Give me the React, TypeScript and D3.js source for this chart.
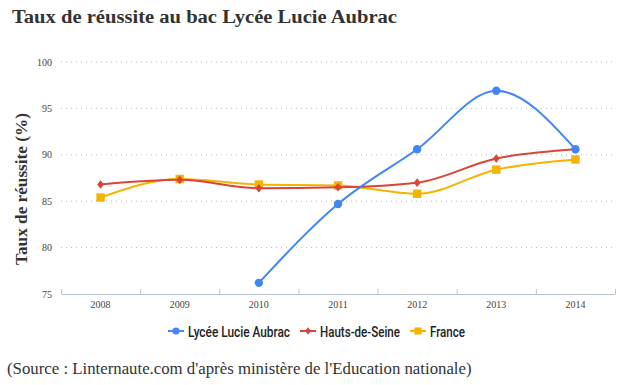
import * as d3 from "d3";
import { useEffect, useRef } from "react";

const years = ["2008", "2009", "2010", "2011", "2012", "2013", "2014"];
const lycee = [null, null, 76.2, 84.7, 90.6, 96.9, 90.6];
const hautsDeSeine = [86.8, 87.3, 86.4, 86.5, 87.0, 89.6, 90.6];
const france = [85.4, 87.4, 86.8, 86.7, 85.8, 88.4, 89.5];
const yTicks = [75, 80, 85, 90, 95, 100];

const seriesNames = ["Lycée Lucie Aubrac", "Hauts-de-Seine", "France"];
const seriesColors = ["#4285f4", "#db4437", "#f4b400"];
const seriesShapes = ["circle", "diamond", "square"];
// legend label widths (condensed font)
const legendWidths = [102, 80, 35];

export default function App() {
  const svgRef = useRef(null);
  const width = 629;
  const height = 385;
  const marginLeft = 61;
  const marginRight = 14;
  const marginTop = 62;
  const axisY = 294;

  useEffect(() => {
    const svg = d3.select(svgRef.current);
    svg.selectAll("*").remove();

    const serif = "'Liberation Serif', 'DejaVu Serif', serif";
    const legendFont = "'Roboto', 'Liberation Sans', sans-serif";

    // scale font-size so a text takes the wanted width
    const fit = (sel, target) => {
      const size = parseFloat(sel.attr("font-size"));
      const w = sel.node().getComputedTextLength();
      if (w > 0) sel.attr("font-size", `${(size * target / w).toFixed(2)}px`);
      return sel;
    };

    const x = d3.scaleBand().domain(years).range([marginLeft, width - marginRight]);
    const y = d3.scaleLinear().domain([75, 100]).range([axisY, marginTop]);

    // title
    const title = svg.append("text")
      .attr("x", 12)
      .attr("y", 23)
      .attr("font-family", serif)
      .attr("font-weight", "bold")
      .attr("font-size", "18.5px")
      .attr("fill", "#333")
      .attr("textLength", 385)
      .attr("lengthAdjust", "spacingAndGlyphs")
      .text("Taux de réussite au bac Lycée Lucie Aubrac");

    // gridlines (dotted)
    svg.append("g")
      .selectAll("line")
      .data(yTicks.filter(d => d > 75))
      .enter()
      .append("line")
      .attr("x1", marginLeft)
      .attr("x2", width - marginRight)
      .attr("y1", d => y(d))
      .attr("y2", d => y(d))
      .attr("stroke", "#bbb")
      .attr("stroke-width", 1)
      .attr("stroke-dasharray", "1,4");

    // y tick labels
    svg.append("g")
      .selectAll("text")
      .data(yTicks)
      .enter()
      .append("text")
      .attr("x", 52)
      .attr("y", d => y(d) + 3.5)
      .attr("text-anchor", "end")
      .attr("font-family", serif)
      .attr("font-size", "10px")
      .attr("fill", "#444")
      .text(d => d);

    // x axis
    const xAxis = d3.axisBottom(x).tickSize(0).tickSizeOuter(0);
    const gx = svg.append("g")
      .attr("transform", `translate(0, ${axisY})`)
      .call(xAxis)
      .call(g => g.select(".domain").attr("stroke", "#b8c4d0"));
    gx.selectAll(".tick text")
      .attr("dy", "1.05em")
      .attr("font-family", serif)
      .attr("font-size", "10px")
      .attr("fill", "#444");

    // band separators
    const bounds = years.map(d => x(d)).concat([width - marginRight]);
    svg.append("g")
      .selectAll("line")
      .data(bounds)
      .enter()
      .append("line")
      .attr("x1", d => d + 0.5)
      .attr("x2", d => d + 0.5)
      .attr("y1", axisY - 5)
      .attr("y2", axisY)
      .attr("stroke", "#b8c4d0");

    // y axis title
    const yTitle = svg.append("text")
      .attr("transform", `translate(27, ${189}) rotate(-90)`)
      .attr("text-anchor", "middle")
      .attr("font-family", serif)
      .attr("font-weight", "bold")
      .attr("font-size", "15.5px")
      .attr("fill", "#333")
      .text("Taux de réussite (%)");
    fit(yTitle, 152);

    const cx = d => x(d) + x.bandwidth() / 2;
    const line = d3.line()
      .defined(d => d[1] != null)
      .x(d => cx(d[0]))
      .y(d => y(d[1]))
      .curve(d3.curveMonotoneX);

    const drawMarker = (g, shape, color, px, py, scale = 1) => {
      if (shape === "circle") {
        g.append("circle").attr("cx", px).attr("cy", py).attr("r", 4.2 * scale).attr("fill", color);
      } else if (shape === "diamond") {
        const s = 4.3 * scale;
        g.append("path")
          .attr("d", `M${px},${py - s}L${px + s * 0.8},${py}L${px},${py + s}L${px - s * 0.8},${py}Z`)
          .attr("fill", color);
      } else {
        const s = 4.2 * scale;
        g.append("rect").attr("x", px - s).attr("y", py - s).attr("width", 2 * s).attr("height", 2 * s).attr("fill", color);
      }
    };

    const allSeries = [lycee, hautsDeSeine, france];
    // draw in reverse so blue ends on top
    [2, 1, 0].forEach(i => {
      const pts = years.map((yr, j) => [yr, allSeries[i][j]]);
      const g = svg.append("g");
      g.append("path")
        .datum(pts)
        .attr("d", line)
        .attr("fill", "none")
        .attr("stroke", seriesColors[i])
        .attr("stroke-width", 2);
      pts.filter(p => p[1] != null).forEach(p => {
        drawMarker(g, seriesShapes[i], seriesColors[i], cx(p[0]), y(p[1]));
      });
    });

    // legend
    const legend = svg.append("g").attr("transform", "translate(168, 331)");
    let lx = 0;
    seriesNames.forEach((name, i) => {
      const item = legend.append("g").attr("transform", `translate(${lx}, 0)`);
      item.append("line")
        .attr("x1", 0).attr("x2", 16)
        .attr("y1", 0).attr("y2", 0)
        .attr("stroke", seriesColors[i])
        .attr("stroke-width", 2);
      drawMarker(item, seriesShapes[i], seriesColors[i], 8, 0, 0.85);
      item.append("text")
        .attr("x", 20)
        .attr("y", 5.5)
        .attr("font-family", legendFont)
        .attr("font-weight", 500)
        .attr("font-size", "15.5px")
        .attr("fill", "#222")
        .attr("textLength", legendWidths[i])
        .attr("lengthAdjust", "spacingAndGlyphs")
        .text(name);
      lx += 20 + legendWidths[i] + 10;
    });

    // source
    const source = svg.append("text")
      .attr("x", 7)
      .attr("y", 374)
      .attr("font-family", serif)
      .attr("font-size", "16px")
      .attr("fill", "#333")
      .text("(Source : Linternaute.com d'après ministère de l'Education nationale)");
    fit(source, 465);
  }, []);

  return (
    <svg
      ref={svgRef}
      width={width}
      height={height}
      style={{ position: "absolute", left: 0, top: 0, background: "#fff" }}
    />
  );
}
